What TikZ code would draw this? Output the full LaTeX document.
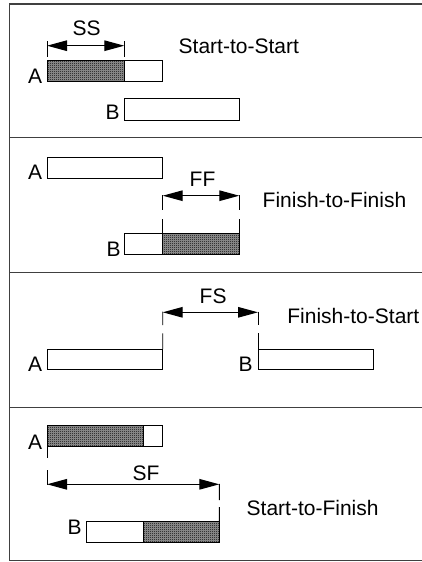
\documentclass[tikz,border=0pt]{standalone}
\usepackage{fontspec}
\setmainfont{Liberation Sans}
\usetikzlibrary{arrows.meta,patterns}

% fine checkerboard used for the overlapping part of a bar
\pgfdeclarepatternformonly{finecheck}{\pgfpointorigin}{\pgfqpoint{2pt}{2pt}}{\pgfqpoint{2pt}{2pt}}{%
  \pgfpathrectangle{\pgfpointorigin}{\pgfqpoint{1pt}{1pt}}%
  \pgfpathrectangle{\pgfqpoint{1pt}{1pt}}{\pgfqpoint{1pt}{1pt}}%
  \pgfusepath{fill}}

\begin{document}
\begin{tikzpicture}[x=1pt,y=-1pt,
  bar/.style={draw, line width=0.9pt, rectangle, inner sep=0pt, outer sep=0pt,
              minimum height=21pt, anchor=north west},
  done/.style={bar, preaction={fill=black!40}, pattern=finecheck, pattern color=black},
  lbl/.style={font=\fontsize{21}{25}\selectfont, inner sep=0pt, anchor=base west},
  lag/.style={line width=1.3pt,
              {Triangle[length=20pt,width=10.5pt]}-{Triangle[length=20pt,width=10.5pt]}},
  tickline/.style={line width=0.9pt},
  frame/.style={line width=1.5pt, draw=black!75}]
\useasboundingbox (0,0) rectangle (422,562);

% outer frame and panel dividers (open on the right)
\draw[frame] (424,4) -- (9.5,4) -- (9.5,560.5) -- (424,560.5);
\draw[frame] (9.5,137.5) -- (424,137.5);
\draw[frame] (9.5,272.5) -- (424,272.5);
\draw[frame] (9.5,407.5) -- (424,407.5);

% ---------- Start-to-Start ----------
\node[done, minimum width=77.3pt] (a1s) at (47,60.7) {};
\node[bar, minimum width=38.4pt] (a1e) at (a1s.north east) {};
\node[bar, minimum width=115pt, minimum height=21.3pt] (b1) at (124.3,98.7) {};
\node[lbl] (la1) at (28,83.3) {A};
\node[lbl] (lb1) at (105.5,119.3) {B};
\node[lbl] (ss) at (72.5,35) {SS};
\node[lbl] (t1) at (178.5,53.3) {Start-to-Start};
\coordinate (ss1) at (47,41);   \coordinate (ss1b) at (47,57);
\coordinate (ss2) at (124.3,41); \coordinate (ss2b) at (124.3,57);
\draw[tickline] (ss1) -- (ss1b);
\draw[tickline] (ss2) -- (ss2b);
\draw[lag] (47,45.7) coordinate (ssl) -- (124.3,45.7) coordinate (ssr);

% ---------- Finish-to-Finish ----------
\node[bar, minimum width=115.7pt] (a2) at (47,157.7) {};
\node[bar, minimum width=38.4pt, minimum height=20.6pt] (b2e) at (124.3,233.7) {};
\node[done, minimum width=76.6pt, minimum height=20.6pt] (b2s) at (b2e.north east) {};
\node[lbl] (la2) at (28,179) {A};
\node[lbl] (lb2) at (106.5,256.7) {B};
\node[lbl] (ff) at (189.5,186.7) {FF};
\node[lbl] (t2) at (262.5,207.7) {Finish-to-Finish};
\coordinate (ff1) at (162.7,195); \coordinate (ff1b) at (162.7,210);
\coordinate (ff2) at (239.3,195); \coordinate (ff2b) at (239.3,210);
\draw[tickline] (ff1) -- (ff1b) (162.7,219.3) -- (b2s.north west);
\draw[tickline] (ff2) -- (ff2b) (239.3,219.3) -- (b2s.north east);
\draw[lag] (162.7,195.7) coordinate (ffl) -- (239.3,195.7) coordinate (ffr);

% ---------- Finish-to-Start ----------
\node[bar, minimum width=115.7pt, minimum height=20.3pt] (a3) at (47,349) {};
\node[bar, minimum width=115pt, minimum height=20.3pt] (b3) at (258,349) {};
\node[lbl] (la3) at (28,371) {A};
\node[lbl] (lb3) at (238.5,371) {B};
\node[lbl] (fs) at (199.5,303.3) {FS};
\node[lbl] (t3) at (287.2,323.3) {Finish-to-Start};
\draw[tickline] (162.7,311.5) -- (162.7,325) (162.7,333.3) -- (a3.north east);
\draw[tickline] (258,311.5) -- (258,325) (258,333.3) -- (b3.north west);
\draw[lag] (162.7,312.3) coordinate (fsl) -- (258,312.3) coordinate (fsr);

% ---------- Start-to-Finish ----------
\node[done, minimum width=96.3pt] (a4s) at (47,425.7) {};
\node[bar, minimum width=19.4pt] (a4e) at (a4s.north east) {};
\node[bar, minimum width=57.3pt, minimum height=20.6pt] (b4e) at (86,521.7) {};
\node[done, minimum width=76pt, minimum height=20.6pt] (b4s) at (b4e.north east) {};
\node[lbl] (la4) at (28,449) {A};
\node[lbl] (lb4) at (67.5,534.3) {B};
\node[lbl] (sf) at (132.5,480) {SF};
\node[lbl] (t4) at (246.5,515) {Start-to-Finish};
\draw[tickline] (a4s.south west) -- (47,458.3) (47,470) -- (47,484.8);
\draw[tickline] (219.3,483.8) -- (219.3,500) (219.3,507) -- (b4s.north east);
\draw[lag] (47,484.3) coordinate (sfl) -- (219.3,484.3) coordinate (sfr);

\end{tikzpicture}
\end{document}
